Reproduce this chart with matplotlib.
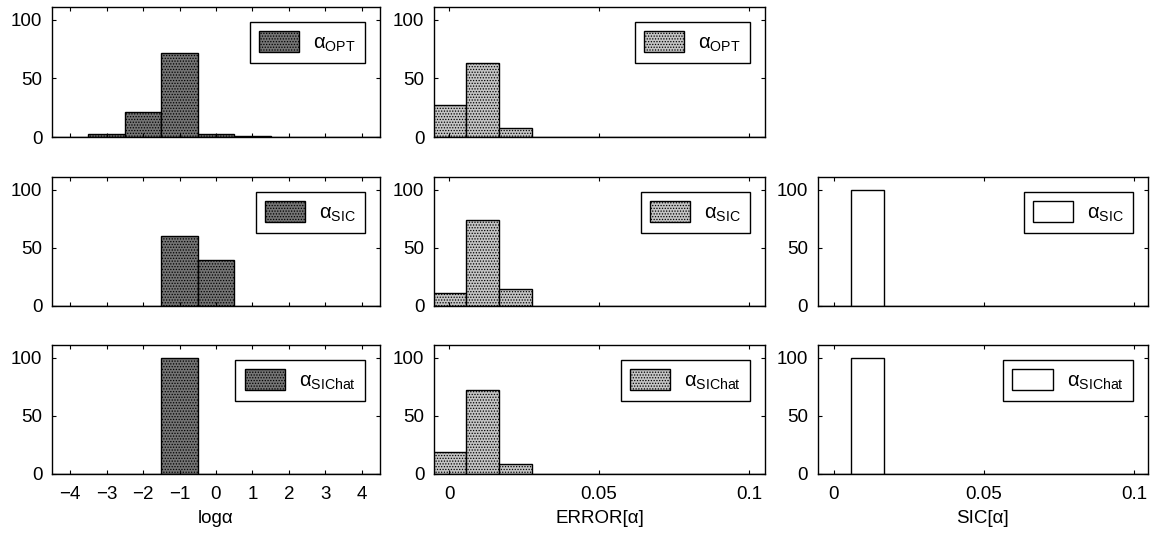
import matplotlib
matplotlib.use("Agg")
import matplotlib.pyplot as plt

plt.rcParams.update({
    "font.family": ["Liberation Sans", "DejaVu Sans"],
    "font.size": 13,
    "mathtext.fontset": "custom",
    "mathtext.rm": "Liberation Sans",
    "mathtext.it": "Liberation Sans:italic",
    "mathtext.sf": "Liberation Sans",
    "axes.linewidth": 1.0,
    "hatch.linewidth": 0.6,
})

# log(alpha) histograms (bin centres and percentages)
log_bins = [-4, -3, -2, -1, 0, 1, 2, 3, 4]
log_opt = [0, 3, 21, 72, 3, 1, 0, 0, 0]
log_sic = [0, 0, 0, 60, 40, 0, 0, 0, 0]
log_sichat = [0, 0, 0, 100, 0, 0, 0, 0, 0]

# ERROR[alpha] histograms
err_bins = [0.0, 0.0111, 0.0222, 0.0333, 0.0444, 0.0556, 0.0667, 0.0778, 0.0889, 0.1]
err_opt = [27, 63, 8, 0, 0, 0, 0, 0, 0, 0]
err_sic = [11, 74, 15, 0, 0, 0, 0, 0, 0, 0]
err_sichat = [19, 72, 9, 0, 0, 0, 0, 0, 0, 0]

# SIC[alpha] histograms
sic_bins = err_bins
sic_sic = [0, 100, 0, 0, 0, 0, 0, 0, 0, 0]
sic_sichat = [0, 100, 0, 0, 0, 0, 0, 0, 0, 0]

labels = [u"\u03b1$_{\\mathrm{OPT}}$", u"\u03b1$_{\\mathrm{SIC}}$", u"\u03b1$_{\\mathrm{SIChat}}$"]
log_ticklabels = [u"\u22124", u"\u22123", u"\u22122", u"\u22121", "0", "1", "2", "3", "4"]

DARK = "#747474"
LIGHT = "#c4c4c4"

fig = plt.figure(figsize=(11.55, 5.39), dpi=100)

col_x = [0.045, 0.3758, 0.7082]
col_w = [0.284, 0.2866, 0.2857]
row_y = [0.7458, 0.4323, 0.1206]
row_h = [0.2412, 0.2393, 0.2393]


def hist_panel(ax, bins, vals, width, face, hatch, label, xlim, xticks, xticklabels, xlabel):
    ax.bar(bins, vals, width=width, align="center", color=face, edgecolor="black",
           linewidth=1.0, hatch=hatch, label=label)
    ax.set_xlim(*xlim)
    ax.set_ylim(0, 111)
    ax.set_yticks([0, 50, 100])
    ax.set_xticks(xticks)
    ax.tick_params(direction="in", top=True, right=True, length=3, labelsize=13.5)
    ax.tick_params(axis="x", pad=9)
    ax.tick_params(axis="y", pad=7)
    if xticklabels:
        ax.set_xticklabels(xticklabels)
    else:
        ax.set_xticklabels([])
    if xlabel:
        ax.set_xlabel(xlabel, fontsize=13.5, labelpad=5)
    ax.legend(loc="upper right", fancybox=False, edgecolor="black", framealpha=1,
              handlelength=2.0, handleheight=1.25, fontsize=14.5, borderaxespad=0.75,
              borderpad=0.45, handletextpad=0.7)


log_sets = [log_opt, log_sic, log_sichat]
err_sets = [err_opt, err_sic, err_sichat]
sic_sets = [None, sic_sic, sic_sichat]

for r in range(3):
    last = r == 2
    ax = fig.add_axes([col_x[0], row_y[r], col_w[0], row_h[r]])
    hist_panel(ax, log_bins, log_sets[r], 1.0, DARK, "......", labels[r],
               (-4.5, 4.5), log_bins,
               log_ticklabels if last else None,
               u"log\u03b1" if last else None)

    ax = fig.add_axes([col_x[1], row_y[r], col_w[1], row_h[r]])
    hist_panel(ax, err_bins, err_sets[r], 0.0111, LIGHT, "......", labels[r],
               (-0.005, 0.1053), [0, 0.05, 0.1],
               ["0", "0.05", "0.1"] if last else None,
               u"ERROR[\u03b1]" if last else None)

    if sic_sets[r] is not None:
        ax = fig.add_axes([col_x[2], row_y[r], col_w[2], row_h[r]])
        hist_panel(ax, sic_bins, sic_sets[r], 0.0111, "white", None, labels[r],
                   (-0.0053, 0.1047), [0, 0.05, 0.1],
                   ["0", "0.05", "0.1"] if last else None,
                   u"SIC[\u03b1]" if last else None)

fig.savefig("out.png", dpi=100)
